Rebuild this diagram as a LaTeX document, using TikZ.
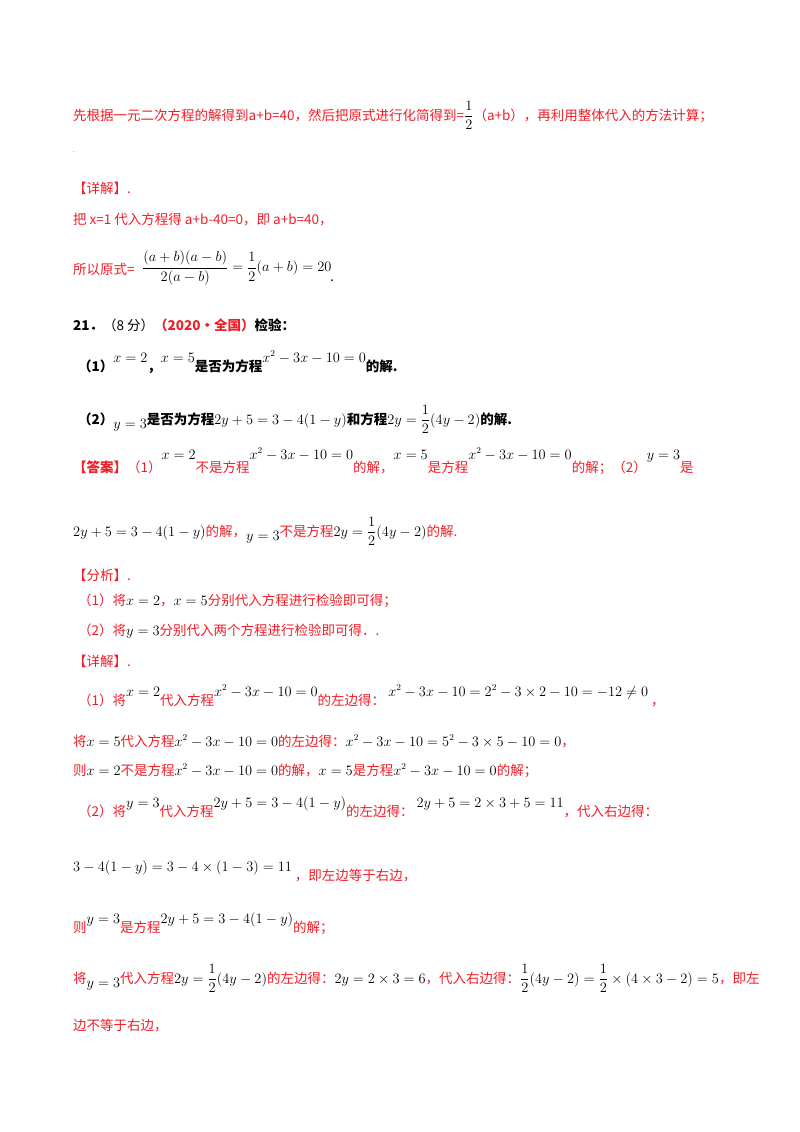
\documentclass[tikz,border=0pt]{standalone}
\usepackage{amsmath}
\usepackage{fontspec}
\setmainfont{Noto Sans CJK SC}
\definecolor{ared}{RGB}{240,30,40}
\tikzset{ln/.style={anchor=base west,inner sep=0pt,font=\fontsize{13.5}{15}\selectfont},
 rd/.style={ln,text=ared}, bk/.style={ln,text=black}}
\newcommand{\hf}{\dfrac{1}{2}}
\newcommand{\bm}[1]{\textcolor{black}{$#1$}}
\begin{document}
\begin{tikzpicture}[x=1pt,y=-1pt]
\useasboundingbox (0,0) rectangle (800,1132);
\fill[white] (0,0) rectangle (800,1132);
\node[rd] (l1) at (73,120) {先根据一元二次方程的解得到a+b=40，然后把原式进行化简得到=\bm{\hf}（a+b），再利用整体代入的方法计算；};
\node[bk] (l2) at (73,152) {\fontsize{6}{6}\selectfont .};
\node[rd] (l3) at (73,193) {【详解】.};
\node[rd] (l4) at (73,224) {把 x=1 代入方程得 a+b-40=0，即 a+b=40，};
\node[rd] (l5) at (73,274) {所以原式=};
\node[bk,anchor=west] (l5m) at (142,268) {$\dfrac{(a+b)(a-b)}{2(a-b)}=\dfrac{1}{2}(a+b)=20$};
\node[bk] (l5d) at (330,281) {.};
\node[bk] (q0) at (73,330) {\textbf{21．}（8 分）\textcolor{ared}{\textbf{（2020·全国）}}\textbf{检验：}};
\node[bk] (q1) at (78,371) {\textbf{（1）}\raisebox{9pt}{$x=2$}\textbf{，}\raisebox{9pt}{$x=5$}\textbf{是否为方程}\raisebox{9pt}{$x^2-3x-10=0$}\textbf{的解.}};
\node[bk] (q2) at (78,424) {\textbf{（2）}\raisebox{-4pt}{$y=3$}\textbf{是否为方程}$2y+5=3-4(1-y)$\textbf{和方程}$2y=\hf(4y-2)$\textbf{的解.}};
\node[rd] (a1) at (73,472) {\textbf{【答案】}（1）\raisebox{13pt}{\bm{x=2}}不是方程\raisebox{13pt}{\bm{x^2-3x-10=0}}的解，\raisebox{13pt}{\bm{x=5}}是方程\raisebox{13pt}{\bm{x^2-3x-10=0}}的解；（2）\raisebox{13pt}{\bm{y=3}}是};
\node[rd] (a2) at (73,536) {\bm{2y+5=3-4(1-y)}的解，\raisebox{-4pt}{\bm{y=3}}不是方程\bm{2y=\hf(4y-2)}的解.};
\node[rd] (f0) at (73,580) {【分析】.};
\node[rd] (f1) at (78,605) {（1）将\bm{x=2}，\bm{x=5}分别代入方程进行检验即可得；};
\node[rd] (f2) at (78,635) {（2）将\bm{y=3}分别代入两个方程进行检验即可得．.};
\node[rd] (d0) at (73,666) {【详解】.};
\node[rd] (d1) at (78,705) {（1）将\raisebox{9pt}{\bm{x=2}}代入方程\raisebox{9pt}{\bm{x^2-3x-10=0}}的左边得：\ \raisebox{9pt}{\bm{x^2-3x-10=2^2-3\times2-10=-12\neq0}}\ ，};
\node[rd] (d2) at (73,746) {将\bm{x=5}代入方程\bm{x^2-3x-10=0}的左边得：\bm{x^2-3x-10=5^2-3\times5-10=0}，};
\node[rd] (d3) at (73,775) {则\bm{x=2}不是方程\bm{x^2-3x-10=0}的解，\bm{x=5}是方程\bm{x^2-3x-10=0}的解；};
\node[rd] (d4) at (78,816) {（2）将\raisebox{9pt}{\bm{y=3}}代入方程\raisebox{9pt}{\bm{2y+5=3-4(1-y)}}的左边得：\ \raisebox{9pt}{\bm{2y+5=2\times3+5=11}}，代入右边得：};
\node[rd] (d5) at (73,880) {\raisebox{9pt}{\bm{3-4(1-y)=3-4\times(1-3)=11}}\ ，即左边等于右边，};
\node[rd] (d6) at (73,932) {则\raisebox{9pt}{\bm{y=3}}是方程\raisebox{9pt}{\bm{2y+5=3-4(1-y)}}的解；};
\node[rd] (d7) at (73,983) {将\raisebox{-4pt}{\bm{y=3}}代入方程\bm{2y=\hf(4y-2)}的左边得：\bm{2y=2\times3=6}，代入右边得：\bm{\hf(4y-2)=\hf\times(4\times3-2)=5}，即左};
\node[rd] (d8) at (73,1030) {边不等于右边，};
\end{tikzpicture}
\end{document}
